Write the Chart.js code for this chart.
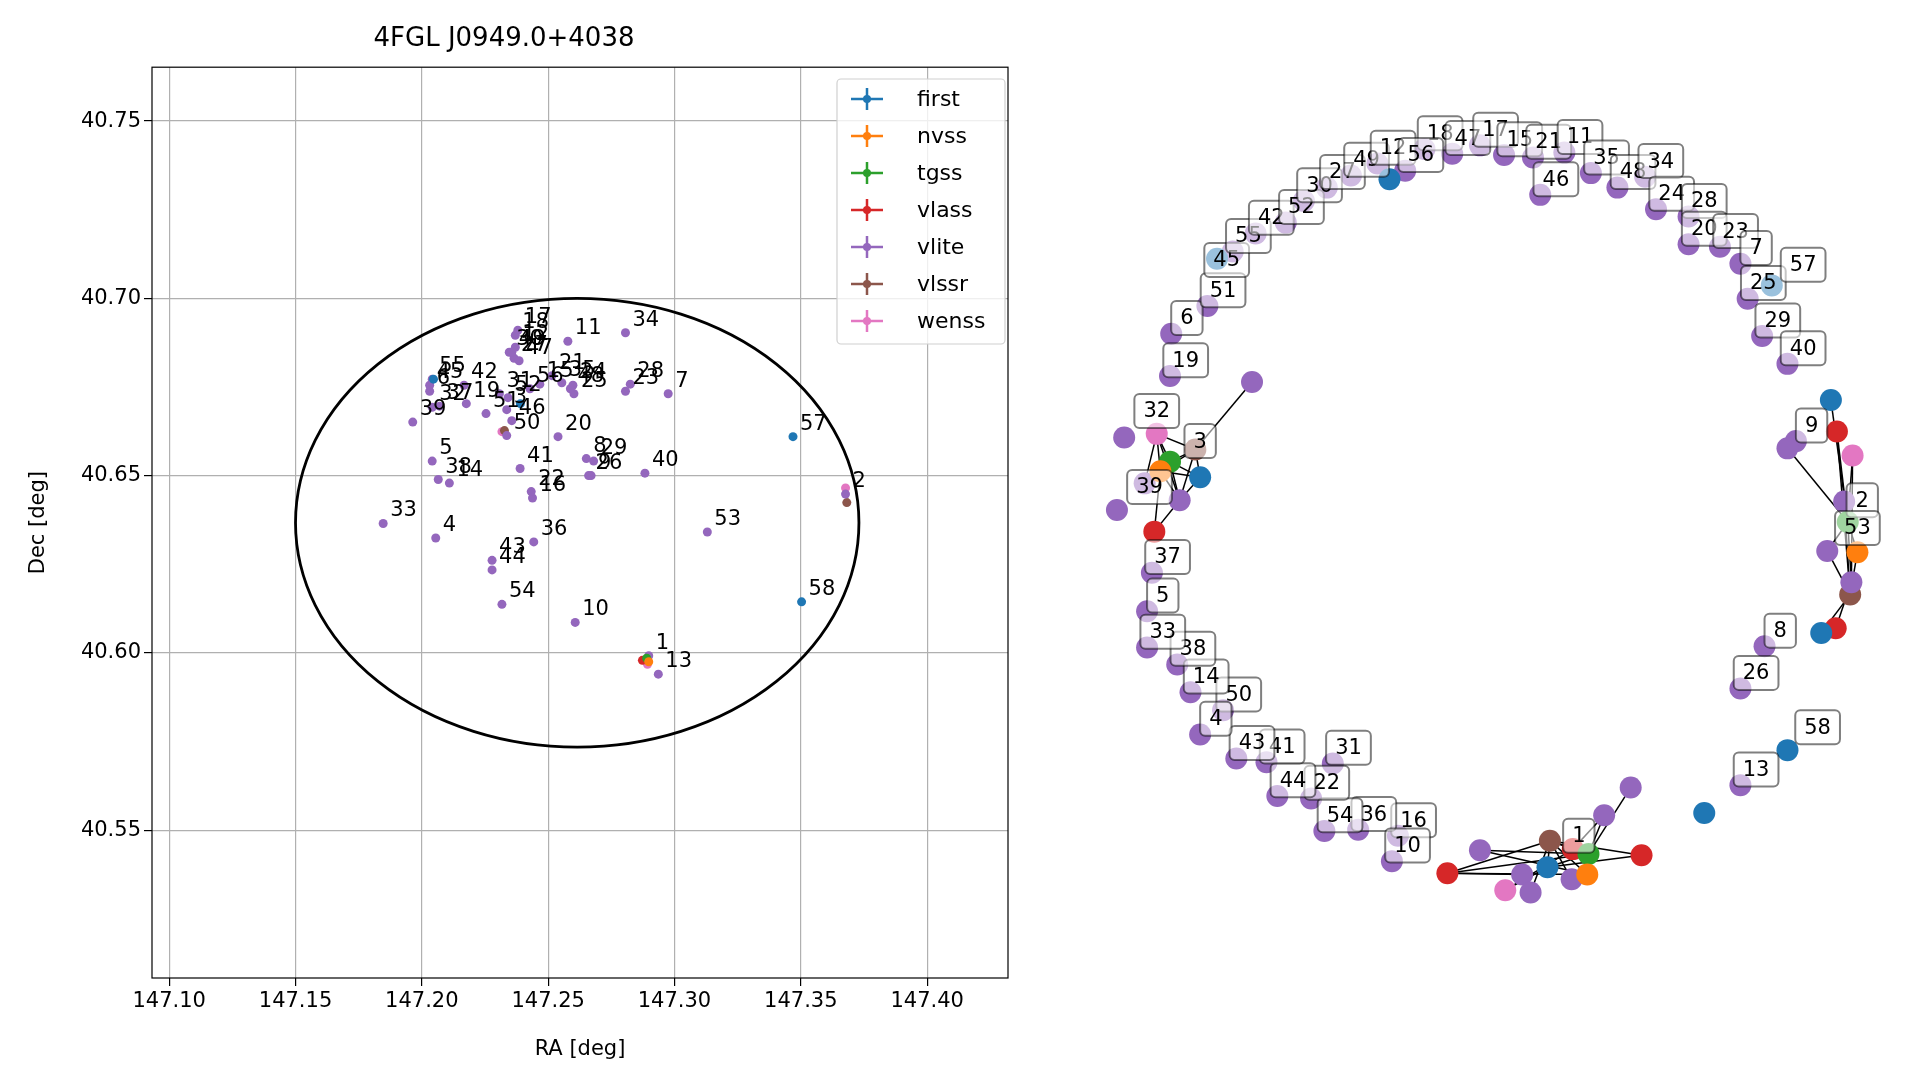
<!DOCTYPE html>
<html>
<head>
<meta charset="utf-8">
<script src="https://cdn.jsdelivr.net/npm/chart.js@4.4.1/dist/chart.umd.min.js"></script>
<style>
body { margin: 0; background: #fff; width: 1919px; height: 1080px; overflow: hidden; position: relative; }
#left { position: absolute; left: 0; top: 0; }
#right { position: absolute; left: 1077px; top: 74px; }
</style>
</head>
<body>
<div id="left" style="width:1060px;height:1080px"><canvas id="sky"></canvas></div>
<div id="right" style="width:830px;height:867px"><canvas id="net"></canvas></div>
<script>
// ---- sky positions (deg) ----
var liteRA = [147.2898,147.3677,147.2336,147.2055,147.2041,147.2031,147.2975,147.2651,147.2670,147.2607,
  147.2578,147.2370,147.2936,147.2109,147.2467,147.2438,147.2380,147.2370,147.2176,147.2539,
  147.2515,147.2433,147.2806,147.2598,147.2602,147.2660,147.2365,147.2825,147.2680,147.2346,
  147.2307,147.2041,147.1847,147.2806,147.2554,147.2443,147.2070,147.2065,147.1964,147.2883,
  147.2389,147.2167,147.2278,147.2278,147.2031,147.2356,147.2385,147.2588,147.2356,147.2336,
  147.2254,147.2341,147.3130,147.2317,147.2041,147.2428];
var liteDec = [40.5992,40.6448,40.6686,40.6324,40.6541,40.6738,40.6731,40.6548,40.6500,40.6086,
  40.6879,40.6862,40.5940,40.6479,40.6758,40.6437,40.6910,40.6896,40.6703,40.6610,
  40.6782,40.6455,40.6738,40.6755,40.6731,40.6500,40.6831,40.6758,40.6541,40.6848,
  40.6731,40.6693,40.6365,40.6903,40.6762,40.6313,40.6696,40.6489,40.6651,40.6507,
  40.6520,40.6755,40.6261,40.6234,40.6755,40.6655,40.6824,40.6745,40.6848,40.6613,
  40.6675,40.6720,40.6341,40.6137,40.6772,40.6745];
var liteLab = liteRA.map(function (v, i) { return String(i + 1); });

var firstRA = [147.2046,147.2390,147.3469,147.3503];
var firstDec = [40.6772,40.6703,40.6610,40.6144];
var firstLab = ['', '', '57', '58'];
var nvssRA = [147.2898], nvssDec = [40.5975];
var tgssRA = [147.2890], tgssDec = [40.5985];
var vlassRA = [147.2873], vlassDec = [40.5979];
var vlssrRA = [147.3682,147.2327], vlssrDec = [40.6424,40.6627];
var wenssRA = [147.3677,147.2893,147.2317], wenssDec = [40.6465,40.5968,40.6624];

var ellipse = { ra: 147.2615, dec: 40.6367, a: 0.1115, b: 0.0633 };
var xTicks = [147.10,147.15,147.20,147.25,147.30,147.35,147.40];
var yTicks = [40.55,40.60,40.65,40.70,40.75];

var cats = ['first','nvss','tgss','vlass','vlite','vlssr','wenss'];
var colors = ['#1f77b4','#ff7f0e','#2ca02c','#d62728','#9467bd','#8c564b','#e377c2'];

function pts(ra, dec, lab) {
  return ra.map(function (r, i) { return { x: r, y: dec[i], lab: lab ? lab[i] : '' }; });
}
var skySets = [
  pts(firstRA, firstDec, firstLab), pts(nvssRA, nvssDec), pts(tgssRA, tgssDec), pts(vlassRA, vlassDec),
  pts(liteRA, liteDec, liteLab), pts(vlssrRA, vlssrDec), pts(wenssRA, wenssDec)
];

var FONT = '"DejaVu Sans", sans-serif';

var skyPlugin = {
  id: 'skyExtras',
  beforeDatasetsDraw: function (chart) {
    var c = chart.ctx, xs = chart.scales.x, ys = chart.scales.y;
    var cx = xs.getPixelForValue(ellipse.ra), cy = ys.getPixelForValue(ellipse.dec);
    var rx = Math.abs(xs.getPixelForValue(ellipse.ra + ellipse.a) - cx);
    var ry = Math.abs(ys.getPixelForValue(ellipse.dec + ellipse.b) - cy);
    c.save();
    c.strokeStyle = '#000'; c.lineWidth = 2.8;
    c.beginPath(); c.ellipse(cx, cy, rx, ry, 0, 0, Math.PI * 2); c.stroke();
    c.restore();
  },
  afterDatasetsDraw: function (chart) {
    var c = chart.ctx, a = chart.chartArea;
    c.save();
    c.font = '21px ' + FONT; c.fillStyle = '#000'; c.textBaseline = 'alphabetic';
    chart.data.datasets.forEach(function (ds, di) {
      var meta = chart.getDatasetMeta(di);
      ds.data.forEach(function (p, i) {
        if (!p.lab) return;
        var el = meta.data[i];
        c.fillText(p.lab, el.x + 7, el.y - 7);
      });
    });
    // frame
    c.strokeStyle = '#000'; c.lineWidth = 1.2;
    c.strokeRect(a.left, a.top, a.right - a.left, a.bottom - a.top);
    // legend
    var lx = 837, ly = 79, lw = 168, lh = 265;
    c.fillStyle = 'rgba(255,255,255,0.8)'; c.strokeStyle = '#d0d0d0'; c.lineWidth = 1.2;
    c.beginPath(); c.roundRect(lx, ly, lw, lh, 4); c.fill(); c.stroke();
    c.font = '22px ' + FONT; c.textBaseline = 'middle';
    cats.forEach(function (name, i) {
      var y = ly + 20 + i * 37;
      c.strokeStyle = colors[i]; c.fillStyle = colors[i]; c.lineWidth = 2.5;
      c.beginPath(); c.moveTo(lx + 14, y); c.lineTo(lx + 46, y); c.moveTo(lx + 30, y - 11); c.lineTo(lx + 30, y + 11); c.stroke();
      c.beginPath(); c.arc(lx + 30, y, 4, 0, Math.PI * 2); c.fill();
      c.fillStyle = '#000'; c.fillText(name, lx + 80, y + 1);
    });
    c.restore();
  }
};

new Chart(document.getElementById('sky'), {
  type: 'scatter',
  data: {
    datasets: skySets.map(function (d, i) {
      return { label: cats[i], data: d, backgroundColor: colors[i], borderColor: colors[i], pointRadius: 4.5, pointHoverRadius: 4.5, borderWidth: 0 };
    })
  },
  options: {
    responsive: true, maintainAspectRatio: false, animation: false,
    layout: { padding: { left: 0, right: 52, top: 0, bottom: 14 } },
    plugins: {
      legend: { display: false }, tooltip: { enabled: false },
      title: { display: true, text: '4FGL J0949.0+4038', color: '#000', font: { family: FONT, size: 26, weight: 'normal' }, padding: { top: 24, bottom: 12 } }
    },
    scales: {
      x: {
        type: 'linear', min: 147.0932, max: 147.4320,
        afterBuildTicks: function (s) { s.ticks = xTicks.map(function (v) { return { value: v }; }); },
        afterFit: function (s) { s.height = 88; },
        ticks: { color: '#000', font: { family: FONT, size: 21 }, maxRotation: 0, callback: function (v) { return v.toFixed(2); } },
        grid: { color: '#b0b0b0', lineWidth: 1.2, tickLength: 8, tickColor: '#000', drawTicks: true },
        border: { display: false },
        title: { display: true, text: 'RA [deg]', color: '#000', font: { family: FONT, size: 21 }, padding: { top: 0 } }
      },
      y: {
        type: 'linear', min: 40.5083, max: 40.7652,
        afterBuildTicks: function (s) { s.ticks = yTicks.map(function (v) { return { value: v }; }); },
        afterFit: function (s) { s.width = 152; },
        ticks: { color: '#000', font: { family: FONT, size: 21 }, callback: function (v) { return v.toFixed(2); } },
        grid: { color: '#b0b0b0', lineWidth: 1.2, tickLength: 8, tickColor: '#000' },
        border: { display: false },
        title: { display: true, text: 'Dec [deg]', color: '#000', font: { family: FONT, size: 21 }, padding: { top: 26, bottom: 0 } }
      }
    }
  },
  plugins: [skyPlugin]
});

// ---- network layout (layout units) ----
var ringLab = ['18','47','17','15','21','11','35','48','34','24','28','20','23','7','25','29','40','9','2','53',
  '8','26','13','31','16','36','10','54','22','44','41','43','50','4','14','38','33','5','37','39',
  '3','32','19','6','51','45','55','42','52','30','27','49','12','56','46','1','57','58'];
var ringX = [1162,1185,1208,1228,1252,1278,1300,1322,1345,1354,1381,1381,1407,1424,1430,1442,1463,1470,1512,1508,
  1444,1424,1424,1086,1140,1107,1135,1079,1068,1040,1031,1006,995,976,968,957,932,932,936,921,
  963,927,951,952,982,985,1003,1022,1047,1062,1081,1101,1123,1146,1258,1277,1463,1475];
var ringY = [100,104,97,105,107,103,120,132,123,150,156,179,181,195,224,255,278,342,404,427,
  512,547,627,609,669,664,690,665,638,636,608,605,565,585,550,527,513,483,451,393,
  355,330,288,253,230,205,185,170,161,143,132,122,112,118,138,682,209,592];
var ringNode = [1, 1, 1, 1, 1, 1, 1, 1, 1, 1, 1, 1, 1, 1, 1, 1, 1, 1, 0, 0,
  1, 1, 1, 1, 1, 1, 1, 1, 1, 1, 1, 1, 1, 1, 1, 1, 1, 1, 1, 0,
  0, 0, 1, 1, 1, 0, 1, 1, 1, 1, 1, 1, 1, 1, 1, 0, 0, 0];

var extraX = [927,938,930,959,963,925,946,1006,917,894,900,
  1486,1491,1504,1497,1500,1508,1483,1503,1502,1490,1478,1450,
  1253,1285,1284,1251,1168,1329,1272,1216,1195,1230,1237,1271,1298,1320,
  1381,1450,1437,1120,977];
var extraY = [349,372,380,362,385,430,404,306,390,412,352,
  321,347,367,405,422,447,446,472,482,510,514,361,
  686,697,714,708,713,698,693,727,694,714,729,718,665,642,
  663,611,226,138,204];
var extraCat = [6,2,1,5,0,3,4,4,4,4,4,
  0,3,6,4,2,1,4,4,5,3,0,4,
  5,2,1,0,3,3,3,6,4,4,4,4,4,4,
  0,0,0,0,0];
var edgeA = [0,0,0,1,1,1,2,2,3,0,1,2,3,4,3,5,2,0,
  11,12,13,14,15,15,15,16,17,18,19,14,22,13,12,
  23,23,23,23,23,23,24,24,24,25,26,29,27,23,23,24,24,29,26,25];
var edgeB = [1,2,3,2,3,4,3,4,4,6,6,6,6,6,7,6,5,8,
  15,15,15,15,16,17,18,19,19,20,21,19,15,18,19,
  24,25,26,27,28,29,26,27,31,31,30,30,32,33,34,35,36,35,28,27];

var netSets = cats.map(function () { return []; });
ringLab.forEach(function (l, i) { if (ringNode[i]) netSets[4].push({ x: ringX[i] - 13, y: ringY[i] + 13 }); });
extraX.forEach(function (x, i) { netSets[extraCat[i]].push({ x: x, y: extraY[i] }); });

var netPlugin = {
  id: 'netExtras',
  beforeDatasetsDraw: function (chart) {
    var c = chart.ctx, xs = chart.scales.x, ys = chart.scales.y;
    c.save(); c.strokeStyle = '#000'; c.lineWidth = 1.5;
    edgeA.forEach(function (a, i) {
      var b = edgeB[i];
      c.beginPath();
      c.moveTo(xs.getPixelForValue(extraX[a]), ys.getPixelForValue(extraY[a]));
      c.lineTo(xs.getPixelForValue(extraX[b]), ys.getPixelForValue(extraY[b]));
      c.stroke();
    });
    c.restore();
  },
  afterDatasetsDraw: function (chart) {
    var c = chart.ctx, xs = chart.scales.x, ys = chart.scales.y;
    c.save();
    c.font = '21px ' + FONT; c.textAlign = 'center'; c.textBaseline = 'middle';
    ringLab.forEach(function (l, i) {
      var px = xs.getPixelForValue(ringX[i]), py = ys.getPixelForValue(ringY[i]);
      var w = c.measureText(l).width + 18, h = 34;
      c.fillStyle = 'rgba(255,255,255,0.55)'; c.strokeStyle = 'rgba(0,0,0,0.5)'; c.lineWidth = 2;
      c.beginPath(); c.roundRect(px - w / 2, py - h / 2, w, h, 5); c.fill(); c.stroke();
      c.fillStyle = '#000'; c.fillText(l, px, py + 1);
    });
    c.restore();
  }
};

new Chart(document.getElementById('net'), {
  type: 'scatter',
  data: {
    datasets: netSets.map(function (d, i) {
      return { label: cats[i], data: d, backgroundColor: colors[i], borderWidth: 0, pointRadius: 11, pointHoverRadius: 11 };
    })
  },
  options: {
    responsive: true, maintainAspectRatio: false, animation: false,
    layout: { padding: 0 },
    plugins: { legend: { display: false }, tooltip: { enabled: false } },
    scales: {
      x: { type: 'linear', min: 870, max: 1540, display: false },
      y: { type: 'linear', min: 60, max: 760, reverse: true, display: false }
    }
  },
  plugins: [netPlugin]
});
</script>
</body>
</html>
